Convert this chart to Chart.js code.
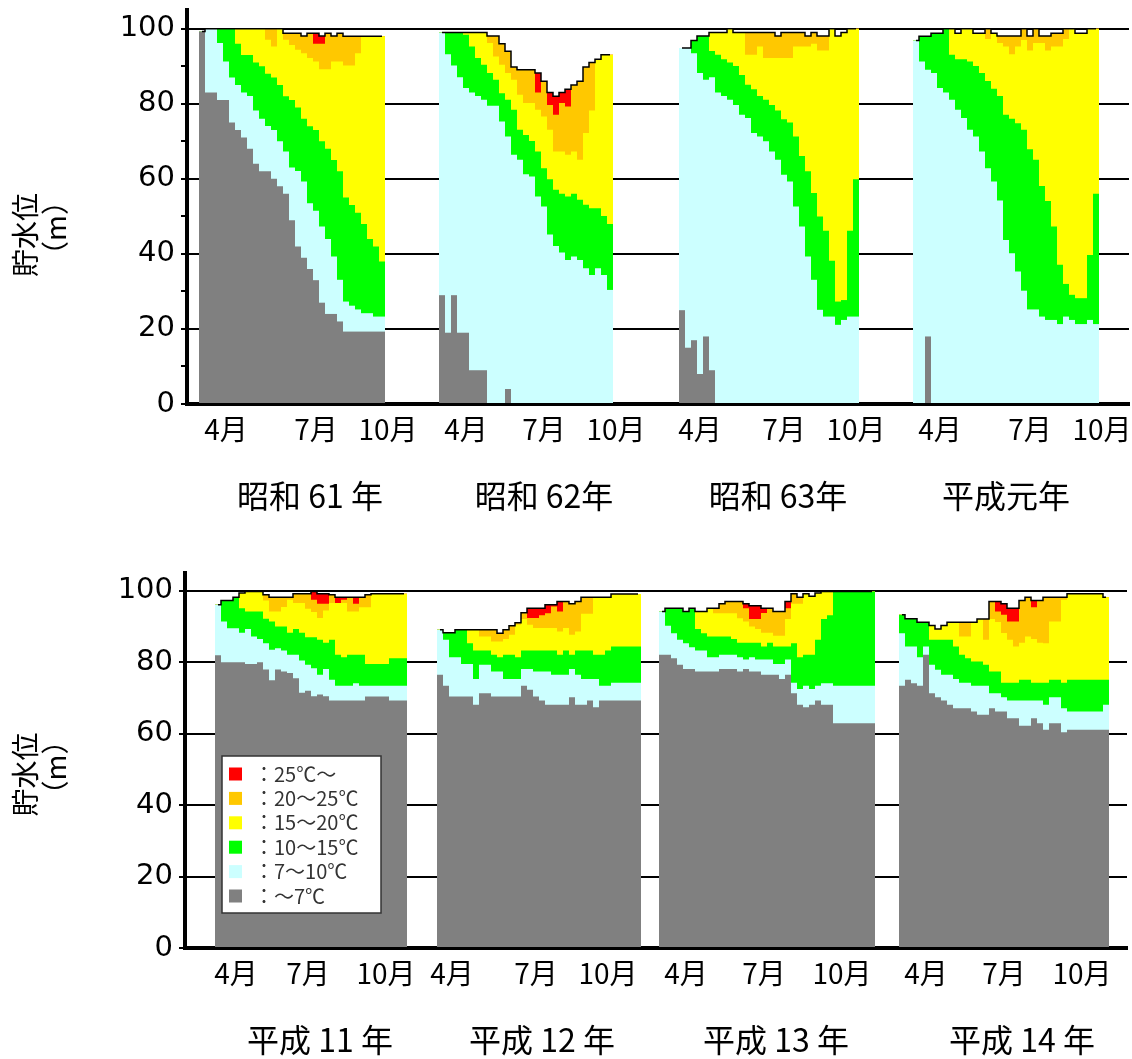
<!DOCTYPE html>
<html lang="ja">
<head>
<meta charset="utf-8">
<title>貯水位と水温分布</title>
<script src="https://cdn.jsdelivr.net/npm/chart.js@4.4.1/dist/chart.umd.min.js"></script>
<style>
  html, body { margin: 0; padding: 0; background: #fff; }
  canvas { display: block; }
</style>
</head>
<body>
<canvas id="upper" width="1132" height="530"></canvas>
<canvas id="lower" width="1132" height="529"></canvas>
<script>
// 各列の上端標高 (m): LEVEL=水面, T25=25℃, T20=20℃, T15=15℃, T10=10℃, T7=7℃

// 昭和61年
const S61_LEVEL = [99.3, 100, 100, 100, 100, 100, 100, 100, 100, 100, 100, 100, 100, 100, 98.8, 98.8, 98.8, 98.1, 98.8, 98.8, 98.1, 98.8, 98.1, 98.8, 98, 98, 98, 98, 98, 98, 98];
const S61_T25 = [99.3, 100, 100, 100, 100, 100, 100, 100, 100, 100, 100, 100, 100, 100, 98.8, 98.8, 98.8, 98.1, 98.8, 96, 96, 98.8, 98.1, 98.8, 98, 98, 98, 98, 98, 98, 98];
const S61_T20 = [99.3, 100, 100, 100, 100, 100, 100, 100, 100, 100, 100, 97.1, 95.3, 100, 97.1, 95.7, 94.4, 93.5, 92.2, 91.3, 89.2, 89.2, 91.3, 91.3, 90.2, 90.2, 93.5, 98, 98, 98, 98];
const S61_T15 = [99.3, 100, 100, 100, 100, 100, 96, 93, 93, 91, 90, 88, 87, 85, 82, 81, 79, 76, 74, 73, 70, 68, 65, 62, 55, 53, 51, 48, 44, 42, 38];
const S61_T10 = [99.3, 100, 100, 96.2, 91.3, 87, 85, 83, 82.1, 78.2, 76, 74.1, 73, 70, 67.3, 63, 62.1, 59.3, 53.5, 51.5, 47.3, 44, 39.3, 33.1, 27.3, 26.2, 25.2, 24.2, 24.2, 23.3, 23.3];
const S61_T7 = [99.3, 83, 83, 81, 81, 75, 73, 71, 68, 64, 62, 62, 60, 58, 56, 49, 42, 39, 36, 33, 27, 24, 24, 22, 19.3, 19.3, 19.3, 19.3, 19.3, 19.3, 19.3];

// 昭和62年
const S62_LEVEL = [99, 99, 99, 99, 99, 99, 99, 99, 98.1, 98.1, 96, 94, 89.8, 89.1, 89.1, 89.1, 88.2, 86, 83, 82, 83, 83.9, 85, 86, 89.8, 91, 91.9, 93.1, 93.1];
const S62_T25 = [99, 99, 99, 99, 99, 99, 99, 99, 98.1, 98.1, 96, 94, 89.8, 89.1, 89.1, 89.1, 83, 86, 79.7, 77.1, 80.2, 79.3, 85, 86, 89.8, 91, 91.9, 93.1, 93.1];
const S62_T20 = [99, 99, 99, 99, 99, 99, 99, 99, 96.2, 92.6, 90.4, 88.2, 86.4, 82.4, 80.2, 80.2, 78.4, 76.6, 73.1, 67.3, 67.3, 66.4, 67.3, 65.1, 72.2, 78.2, 91.9, 93.1, 93.1];
const S62_T15 = [99, 99, 99, 99, 98.4, 95.3, 92.2, 90.4, 88.2, 86.4, 82.8, 81.1, 78.4, 73.1, 71.7, 70.1, 67.3, 62.8, 59.9, 57.1, 56, 55.3, 56, 54.4, 53.1, 52.2, 52.2, 50.1, 48];
const S62_T10 = [99, 93.2, 90.2, 87.1, 84.2, 83, 82.1, 81.1, 79.5, 79.5, 75.3, 71.3, 66.4, 65.1, 61.2, 60.6, 55.3, 52.6, 45.2, 42.1, 40.4, 38.4, 39.3, 38.4, 36.2, 34.4, 36.2, 34.4, 30.4];
const S62_T7 = [29, 19, 29, 19, 19, 9, 9, 9, 0, 0, 0, 4, 0, 0, 0, 0, 0, 0, 0, 0, 0, 0, 0, 0, 0, 0, 0, 0, 0];

// 昭和63年
const S63_LEVEL = [94.9, 94.9, 96.9, 98.1, 98.1, 99, 99, 99, 100, 99, 99, 99, 99, 99, 99, 99, 98.1, 99, 99, 99, 99, 98.1, 99, 98.1, 98.1, 100, 98.1, 99, 100, 100];
const S63_T25 = [94.9, 94.9, 96.9, 98.1, 98.1, 99, 99, 99, 100, 99, 99, 99, 99, 99, 99, 99, 98.1, 99, 99, 99, 99, 98.1, 99, 98.1, 98.1, 100, 98.1, 99, 100, 100];
const S63_T20 = [94.9, 94.9, 96.9, 98.1, 98.1, 99, 99, 99, 100, 99, 99, 93.1, 93.1, 95.3, 92.2, 92.2, 92.2, 92.2, 92.2, 95.3, 95.3, 95.3, 96, 94.2, 94.2, 100, 98.1, 99, 100, 100];
const S63_T15 = [94.9, 94.9, 96.9, 98.1, 98.1, 94.1, 93.1, 91.9, 91, 90.1, 87.7, 85.1, 83.9, 82.1, 81.1, 79.7, 78.2, 75.9, 75, 71.3, 66.1, 62, 56.2, 50, 46.2, 38.2, 27.3, 27.7, 46.2, 59.9];
const S63_T10 = [94.9, 94.9, 93.5, 88.2, 86.4, 87.1, 83, 82.1, 81.1, 79.7, 77.1, 76.2, 72.2, 71.3, 70, 67.3, 65.1, 61.1, 59.3, 52.6, 47.3, 39.3, 33.1, 25.1, 23.3, 23.3, 21.1, 22.4, 23.3, 23.3];
const S63_T7 = [25, 15, 17, 8, 18, 9, 0, 0, 0, 0, 0, 0, 0, 0, 0, 0, 0, 0, 0, 0, 0, 0, 0, 0, 0, 0, 0, 0, 0, 0];

// 平成元年
const H01_LEVEL = [96.9, 98, 98, 98.8, 98.8, 100, 100, 98.8, 100, 100, 98.8, 98.8, 100, 98.8, 98.1, 98.1, 98.1, 98.1, 100, 98.1, 100, 98.1, 98.1, 98.8, 98.8, 100, 100, 98.8, 98.8, 100, 100];
const H01_T25 = [96.9, 98, 98, 98.8, 98.8, 100, 100, 98.8, 100, 100, 98.8, 98.8, 100, 98.8, 98.1, 98.1, 98.1, 98.1, 100, 98.1, 100, 98.1, 98.1, 98.8, 98.8, 100, 100, 98.8, 98.8, 100, 100];
const H01_T20 = [96.9, 98, 98, 98.8, 98.8, 100, 100, 98.8, 100, 100, 98.8, 98.8, 97.3, 98.8, 96.2, 95.3, 93.2, 95.3, 97, 94.2, 96.2, 96.2, 94.2, 95.3, 95.3, 97.3, 100, 98.8, 98.8, 100, 100];
const H01_T15 = [96.9, 98, 98, 98.8, 98.8, 100, 93.1, 91.9, 91.9, 91.3, 90.1, 88.2, 86.1, 84, 82.1, 77.1, 76, 74.8, 73.1, 67.9, 65.1, 58.1, 54.1, 47.3, 37.1, 32, 29.1, 28.2, 28.2, 39.7, 56];
const H01_T10 = [96.9, 91.3, 89.1, 88.2, 84.2, 83, 81.1, 78.4, 76.2, 73.1, 71.3, 67.3, 62.8, 59.3, 54.2, 43.7, 40.2, 35.3, 30.2, 25.2, 25.2, 23.3, 22.4, 22.4, 21.3, 23.3, 22.4, 21.3, 21.3, 22.4, 21.3];
const H01_T7 = [0, 0, 18, 0, 0, 0, 0, 0, 0, 0, 0, 0, 0, 0, 0, 0, 0, 0, 0, 0, 0, 0, 0, 0, 0, 0, 0, 0, 0, 0, 0];

// 平成11年
const H11_LEVEL = [96.1, 97.3, 97.3, 98.2, 99.4, 99.8, 99.8, 99.8, 98.9, 98.2, 98.2, 98.2, 98.2, 99.2, 99.2, 99.2, 99.8, 99.2, 99.2, 98.9, 98.2, 98.2, 98.2, 98.2, 98.2, 98.9, 99.2, 99.2, 99.2, 99.2, 99.2, 99.2];
const H11_T25 = [96.1, 97.3, 97.3, 98.2, 99.4, 99.8, 99.8, 99.8, 98.9, 98.2, 98.2, 98.2, 98.2, 99.2, 99.2, 99.2, 97.5, 96.4, 96.4, 98.9, 96.6, 97.5, 98.2, 96.4, 98.2, 98.9, 99.2, 99.2, 99.2, 99.2, 99.2, 99.2];
const H11_T20 = [96.1, 97.3, 97.3, 98.2, 99.4, 99.8, 99.8, 99.8, 97.3, 94.2, 94.2, 95.5, 97.5, 96.6, 96.6, 95, 94.1, 92.4, 94.5, 96.6, 96.6, 96.6, 94.2, 94.2, 95.4, 95.4, 99.2, 99.2, 99.2, 99.2, 99.2, 99.2];
const H11_T15 = [96.1, 97.3, 97.3, 98.2, 95.1, 94.2, 94.2, 94.2, 92.2, 91.4, 90, 90, 88.3, 89.3, 88.3, 87, 87, 86.3, 85.5, 86.3, 82.1, 81.4, 82.1, 82.1, 82.1, 79.5, 79.5, 79.5, 79.5, 81.1, 81.1, 81.1];
const H11_T10 = [96.1, 91.4, 89.5, 89.5, 88.3, 89.3, 87.2, 86.5, 85.3, 83.5, 83.9, 83.3, 82.1, 82.1, 80.5, 79.3, 78.3, 76.5, 78.1, 75.1, 73.4, 73.4, 73.4, 74.1, 73.4, 73.4, 73.4, 73.4, 73.4, 73.4, 73.4, 73.4];
const H11_T7 = [82, 80, 80, 80, 80, 79.5, 79.5, 80, 78, 75, 78, 77.4, 77, 75.5, 71.5, 72, 70.5, 71, 70.5, 69.3, 69.3, 69.3, 69.3, 69.3, 69.3, 70.4, 70.4, 70.4, 70.4, 69.3, 69.3, 69.3];

// 平成12年
const H12_LEVEL = [89.1, 88.3, 88.3, 89.1, 89.1, 89.1, 89.1, 89.1, 89.1, 89.1, 88.1, 89.1, 90.2, 91.1, 93.9, 95.1, 95.1, 95.1, 96.1, 96.1, 97, 97, 96.4, 97, 98.2, 98.2, 98.2, 98.2, 98.2, 99.1, 99.1, 99.1, 99.1, 99.1];
const H12_T25 = [89.1, 88.3, 88.3, 89.1, 89.1, 89.1, 89.1, 89.1, 89.1, 89.1, 88.1, 89.1, 90.2, 91.1, 93.9, 92.4, 92.4, 93.2, 93.7, 95.6, 94.2, 97, 96.4, 97, 98.2, 98.2, 98.2, 98.2, 98.2, 99.1, 99.1, 99.1, 99.1, 99.1];
const H12_T20 = [89.1, 88.3, 88.3, 89.1, 89.1, 89.1, 89.1, 87.2, 87.2, 85.8, 85.8, 86.5, 87.7, 90.5, 92.1, 90.5, 89.6, 89.6, 89.6, 89.6, 88.6, 89.6, 87.7, 88.6, 93.6, 93.6, 98.2, 98.2, 98.2, 99.1, 99.1, 99.1, 99.1, 99.1];
const H12_T15 = [89.1, 88.3, 88.3, 89.1, 89.1, 85.3, 83.3, 83.3, 83.3, 82.1, 81.4, 82.1, 82.1, 81.4, 83.3, 83.3, 83.3, 83.3, 83.3, 83.3, 82.1, 83.3, 82.1, 83.3, 83.3, 83.3, 82.1, 82.1, 83.3, 84.4, 84.4, 84.4, 84.4, 84.4];
const H12_T10 = [89.1, 86.3, 81.4, 81.4, 79.5, 79.5, 75.3, 79.3, 79.3, 77.4, 77.4, 75.3, 75.3, 75.3, 78.1, 78.1, 77.4, 77.4, 77.4, 76.5, 76.5, 76.5, 78.1, 76.5, 75.3, 75.3, 75.3, 73.4, 73.4, 74.3, 74.3, 74.3, 74.3, 74.3];
const H12_T7 = [76.5, 73.4, 70.4, 70.4, 70.4, 70.4, 68.1, 71.3, 71.3, 70.4, 70.4, 70.4, 70.4, 70.4, 73.4, 72.3, 70.4, 69.3, 68.1, 68.1, 68.1, 68.1, 70.2, 68.1, 68.1, 69.3, 67.4, 69.3, 69.3, 69.3, 69.3, 69.3, 69.3, 69.3];

// 平成13年
const H13_LEVEL = [94.2, 95.1, 95.1, 95.1, 94.2, 95.1, 94.2, 94.2, 95.1, 95.1, 96.4, 97, 97, 97, 96.4, 95.8, 95.8, 95.1, 95.1, 94.2, 94.2, 97, 99.2, 98.2, 99.2, 98.5, 99.4, 99.8, 99.8, 99.8, 99.8, 99.8, 99.8, 99.8, 99.8, 99.8];
const H13_T25 = [94.2, 95.1, 95.1, 95.1, 94.2, 95.1, 94.2, 94.2, 95.1, 95.1, 96.4, 97, 97, 97, 95.1, 92.1, 92.1, 93.8, 95.1, 94.2, 94.2, 95.1, 99.2, 98.2, 99.2, 98.5, 99.4, 99.8, 99.8, 99.8, 99.8, 99.8, 99.8, 99.8, 99.8, 99.8];
const H13_T20 = [94.2, 95.1, 95.1, 95.1, 94.2, 95.1, 94.2, 94.2, 95.1, 93.7, 93.7, 93.7, 93.7, 92.3, 91.4, 90, 89.3, 88.3, 88.3, 87.4, 87.4, 92.1, 96.4, 96.4, 99.2, 98.5, 99.4, 99.8, 99.8, 99.8, 99.8, 99.8, 99.8, 99.8, 99.8, 99.8];
const H13_T15 = [94.2, 95.1, 95.1, 95.1, 94.2, 95.1, 89.3, 88.1, 87.2, 87.2, 87.2, 87.2, 86.5, 85.5, 85.5, 85.5, 85.5, 84.4, 85.5, 84.4, 84.4, 84.4, 85.3, 81.4, 82.1, 82.1, 86.3, 92.1, 93.2, 99.8, 99.8, 99.8, 99.8, 99.8, 99.8, 99.8];
const H13_T10 = [94.2, 90.2, 88.1, 86.3, 85.3, 84.2, 83.3, 83.3, 81.4, 81.4, 82.1, 82.1, 82.1, 81.4, 80.8, 81.4, 80.8, 80.8, 80.8, 79.5, 79.5, 80.8, 74.3, 72.5, 73.4, 72.5, 73.4, 74.1, 74.1, 73.4, 73.4, 73.4, 73.4, 73.4, 73.4, 73.4];
const H13_T7 = [82.1, 82.1, 81.1, 79.3, 78.1, 78.1, 77.4, 77.4, 77.4, 77.4, 78.1, 78.1, 78.1, 77.4, 78.1, 77.4, 77.4, 76.5, 76.5, 76.5, 75.3, 76.5, 71.3, 68.1, 67.4, 68.1, 69.3, 68.1, 68.1, 62.9, 62.9, 62.9, 62.9, 62.9, 62.9, 62.9];

// 平成14年
const H14_LEVEL = [93.3, 92.2, 92.2, 91.2, 91.2, 90.3, 89.3, 90.3, 91.2, 91.2, 91.2, 91.2, 91.2, 92.1, 92.1, 97, 97, 96.4, 95.1, 95.1, 97.3, 98.2, 97.3, 97.3, 98.2, 98.2, 98.2, 98.2, 99.2, 99.2, 99.2, 99.2, 99.2, 99.2, 98.2];
const H14_T25 = [93.3, 92.2, 92.2, 91.2, 91.2, 90.3, 89.3, 90.3, 91.2, 91.2, 91.2, 91.2, 91.2, 92.1, 92.1, 97, 94.2, 93.3, 91.4, 91.4, 97.3, 98.2, 95.4, 97.3, 98.2, 98.2, 98.2, 98.2, 99.2, 99.2, 99.2, 99.2, 99.2, 99.2, 98.2];
const H14_T20 = [93.3, 92.2, 92.2, 91.2, 91.2, 90.3, 89.3, 90.3, 91.2, 91.2, 87.2, 87.2, 91.2, 92.1, 86.3, 92.1, 91.3, 88.2, 86.3, 84.4, 85.5, 87.2, 86.5, 85.5, 85.3, 91.4, 91.4, 97.5, 99.2, 99.2, 99.2, 99.2, 99.2, 99.2, 98.2];
const H14_T15 = [93.3, 92.2, 92.2, 91.2, 91.2, 86.3, 86.3, 86.3, 86.3, 84.4, 82.1, 81.1, 80.2, 80.2, 79.3, 77.4, 77.4, 74.3, 74.3, 74.3, 75.1, 75.1, 74.3, 74.3, 74.3, 75.1, 75.1, 74.3, 75.1, 75.1, 75.1, 75.1, 75.1, 75.1, 75.1];
const H14_T10 = [88.1, 84.4, 84.4, 81.4, 84.4, 79.3, 77.9, 76.5, 76.5, 75.3, 74.3, 74.3, 73.4, 73.4, 73.4, 71.3, 71.3, 70.2, 69.3, 69.3, 69.3, 69.3, 69.3, 69.3, 68.1, 70.2, 70.2, 67.1, 66.2, 66.2, 66.2, 66.2, 66.2, 66.2, 68.1];
const H14_T7 = [73.4, 75.1, 74.1, 73.4, 82.1, 71.3, 70.2, 69.3, 68.1, 67.1, 67.1, 67.1, 66.2, 65.3, 65.3, 67.1, 66.2, 66.2, 64.3, 64.3, 62.2, 62.2, 64.3, 62.9, 61.1, 62.9, 62.9, 60.4, 61.1, 61.1, 61.1, 61.1, 61.1, 61.1, 61.1];

const MONTHS = ['4月', '7月', '10月'];
const UPPER_YEARS = ['昭和 61 年', '昭和 62年', '昭和 63年', '平成元年'];
const LOWER_YEARS = ['平成 11 年', '平成 12 年', '平成 13 年', '平成 14 年'];
const Y_TICKS = [0, 20, 40, 60, 80, 100];
const Y_MINOR = [0, 10, 20, 30, 40, 50, 60, 70, 80, 90, 100];

// 下から 〜7, 7〜10, 10〜15, 15〜20, 20〜25, 25〜
const LAYERS = ['t7', 't10', 't15', 't20', 't25', 'level'];
const LAYER_NAMES = ['～7℃', '7～10℃', '10～15℃', '15～20℃', '20～25℃', '25℃～'];
const LAYER_COLORS = ['#808080', '#ccffff', '#00ff00', '#ffff00', '#ffc800', '#ff0000'];

const yr = (level, t25, t20, t15, t10, t7) => ({ level, t25, t20, t15, t10, t7 });

// 凡例 (下のグラフ内)
const legendBox = {
    id: 'legendBox',
    afterDraw(chart) {
        const { ctx, chartArea } = chart;
        const x = chartArea.left + 37, y = chartArea.top + 183;
        ctx.save();
        ctx.fillStyle = '#fff';
        ctx.fillRect(x, y, 159, 157);
        ctx.strokeStyle = '#333';
        ctx.lineWidth = 1.5;
        ctx.strokeRect(x, y, 159, 157);
        ctx.font = '20px "Noto Sans CJK JP"';
        ctx.textBaseline = 'middle';
        for (let i = 0; i < 6; i++) {
            const k = 5 - i;
            const cy = y + 18 + i * 24.4;
            ctx.fillStyle = LAYER_COLORS[k];
            ctx.fillRect(x + 7, cy - 6.5, 13, 13);
            ctx.fillStyle = '#333';
            ctx.fillText('：' + LAYER_NAMES[k], x + 32, cy);
        }
        ctx.restore();
    }
};

function buildChart(id, p) {
    const labels = Array.from({ length: p.slots }, (_, i) => String(i));
    const monthAt = {};
    p.monthSlots.forEach((s, i) => { monthAt[s] = MONTHS[i % 3]; });
    const yearAt = {};
    p.yearSlots.forEach((s, i) => { yearAt[s] = p.yearNames[i]; });

    const spread = key => {
        const out = new Array(p.slots).fill(null);
        p.years.forEach((y, k) => y[key].forEach((v, i) => { out[p.starts[k] + i] = v; }));
        return out;
    };

    const bars = LAYERS.map((key, i) => ({
        type: 'bar',
        label: LAYER_NAMES[i],
        data: spread(key),
        backgroundColor: LAYER_COLORS[i],
        grouped: false,
        barPercentage: 1,
        categoryPercentage: 1,
        borderWidth: 0,
        inflateAmount: 0,
        order: i + 1
    }));
    const line = {
        type: 'line',
        label: '貯水位',
        data: spread('level'),
        borderColor: '#000',
        borderWidth: 1.5,
        pointRadius: 0,
        stepped: 'middle',
        fill: false,
        spanGaps: false,
        order: 0
    };

    // 軸ラベルのはみ出しによる余白を付けない
    const noPad = s => { s.paddingLeft = 0; s.paddingRight = 0; s.paddingTop = 0; s.paddingBottom = 0; };

    return new Chart(document.getElementById(id), {
        type: 'bar',
        data: { labels, datasets: [line, ...bars] },
        options: {
            responsive: false,
            animation: false,
            devicePixelRatio: 1,
            layout: { padding: { top: p.padTop, right: p.padRight, bottom: 0, left: 0 } },
            plugins: { legend: { display: false }, tooltip: { enabled: false } },
            scales: {
                x: {
                    offset: true,
                    z: 1,
                    grid: { display: false },
                    border: { display: true, color: '#000', width: 4 },
                    ticks: {
                        autoSkip: false, maxRotation: 0, minRotation: 0, padding: 1, color: '#000',
                        font: { family: 'Noto Sans CJK JP', size: 28 },
                        callback: (v, i) => monthAt[i] || ''
                    },
                    afterFit: s => { s.height = 50; noPad(s); }
                },
                x2: {
                    type: 'category',
                    position: 'bottom',
                    offset: true,
                    grid: { display: false },
                    border: { display: false },
                    ticks: {
                        autoSkip: false, maxRotation: 0, minRotation: 0, padding: 15, color: '#000',
                        font: { family: 'Noto Sans CJK JP', size: 32 },
                        callback: (v, i) => yearAt[i] || ''
                    },
                    afterFit: s => { s.height = p.x2Height; noPad(s); }
                },
                y: {
                    min: 0,
                    max: 105,
                    z: 1,
                    afterBuildTicks: s => { s.ticks = Y_MINOR.map(value => ({ value })); },
                    ticks: {
                        padding: 6, color: '#000',
                        font: { family: 'DejaVu Sans', size: 29 },
                        callback: v => Y_TICKS.includes(v) ? String(v) : ''
                    },
                    grid: {
                        lineWidth: 2,
                        tickLength: 6,
                        tickWidth: 2,
                        tickColor: '#000',
                        color: c => (c.tick && c.tick.value > 0 && Y_TICKS.includes(c.tick.value)) ? '#000' : 'rgba(0,0,0,0)'
                    },
                    border: { color: '#000', width: 4 },
                    title: {
                        display: true,
                        text: p.yTitle,
                        color: '#000',
                        font: { family: 'Noto Sans CJK JP', size: 28, lineHeight: 1.05 },
                        padding: { top: 11, bottom: 0 }
                    },
                    afterFit: s => { s.width = p.yWidth; noPad(s); }
                }
            }
        },
        plugins: p.plugins || []
    });
}

buildChart('upper', {
    slots: 157,
    starts: [2, 42, 82, 121],
    years: [
        yr(S61_LEVEL, S61_T25, S61_T20, S61_T15, S61_T10, S61_T7),
        yr(S62_LEVEL, S62_T25, S62_T20, S62_T15, S62_T10, S62_T7),
        yr(S63_LEVEL, S63_T25, S63_T20, S63_T15, S63_T10, S63_T7),
        yr(H01_LEVEL, H01_T25, H01_T20, H01_T15, H01_T10, H01_T7)
    ],
    monthSlots: [6, 21, 33, 46, 59, 71, 85, 99, 111, 125, 140, 152],
    yearSlots: [20, 59, 98, 136],
    yearNames: UPPER_YEARS,
    yTitle: ['貯水位\u3000\u3000', '（m）\u3000\u3000'],
    padTop: 10,
    padRight: 3,
    x2Height: 76,
    yWidth: 187
});

buildChart('lower', {
    slots: 157,
    starts: [5, 42, 79, 119],
    years: [
        yr(H11_LEVEL, H11_T25, H11_T20, H11_T15, H11_T10, H11_T7),
        yr(H12_LEVEL, H12_T25, H12_T20, H12_T15, H12_T10, H12_T7),
        yr(H13_LEVEL, H13_T25, H13_T20, H13_T15, H13_T10, H13_T7),
        yr(H14_LEVEL, H14_T25, H14_T20, H14_T15, H14_T10, H14_T7)
    ],
    monthSlots: [8, 20, 33, 44, 58, 70, 83, 96, 109, 123, 136, 149],
    yearSlots: [22, 59, 98, 139],
    yearNames: LOWER_YEARS,
    yTitle: ['貯水位\u3000', '（m）\u3000'],
    padTop: 43,
    padRight: 5,
    x2Height: 61,
    yWidth: 185,
    plugins: [legendBox]
});
</script>
</body>
</html>
